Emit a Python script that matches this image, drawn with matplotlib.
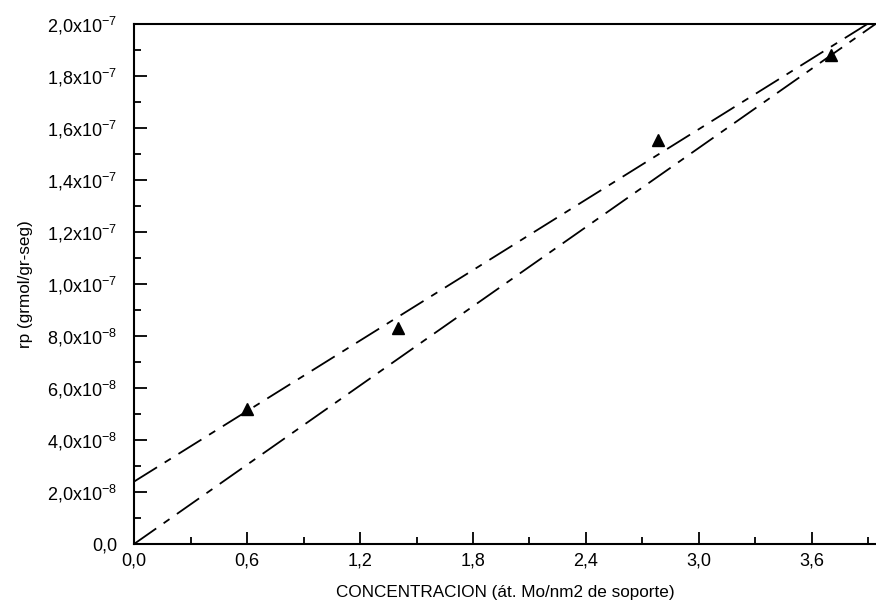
import matplotlib.pyplot as plt
import numpy as np

plt.rcParams['font.family'] = ['Liberation Sans', 'DejaVu Sans']
plt.rcParams['mathtext.fontset'] = 'custom'
plt.rcParams['mathtext.rm'] = 'Liberation Sans'
plt.rcParams['mathtext.default'] = 'rm'
plt.rcParams['axes.unicode_minus'] = False

# datos experimentales
conc = [0.6, 1.4, 2.78, 3.7]
rp = [5.2e-8, 8.3e-8, 1.555e-7, 1.88e-7]

# rectas de ajuste (ordenada, pendiente)
fit_a = (2.4e-8, 4.52e-8)
fit_b = (0.0, 5.08e-8)
x_fit = [0.0, 3.94]

y_ticks = [0.0, 2e-8, 4e-8, 6e-8, 8e-8, 1e-7, 1.2e-7, 1.4e-7, 1.6e-7, 1.8e-7, 2e-7]
y_labels = ['0,0', r'2,0x10$^{-8}$', r'4,0x10$^{-8}$', r'6,0x10$^{-8}$', r'8,0x10$^{-8}$',
            r'1,0x10$^{-7}$', r'1,2x10$^{-7}$', r'1,4x10$^{-7}$', r'1,6x10$^{-7}$',
            r'1,8x10$^{-7}$', r'2,0x10$^{-7}$']
x_ticks = [0.0, 0.6, 1.2, 1.8, 2.4, 3.0, 3.6]
x_labels = ['0,0', '0,6', '1,2', '1,8', '2,4', '3,0', '3,6']

fig = plt.figure(figsize=(8.76, 6.06), dpi=100)
ax = fig.add_axes([0.153, 0.1023, 0.847, 0.858])

for b0, m in (fit_a, fit_b):
    ax.plot(x_fit, [b0 + m * x for x in x_fit], color='black', lw=1.3,
            dashes=(15, 5, 4, 5))
ax.plot(conc, rp, linestyle='none', marker='^', color='black', markersize=8)

ax.set_xlim(0, 3.94)
ax.set_ylim(0, 2e-7)
ax.set_xticks(x_ticks)
ax.set_xticklabels(x_labels)
ax.set_yticks(y_ticks)
ax.set_yticklabels(y_labels)
ax.set_xticks(np.arange(0.3, 3.94, 0.6), minor=True)
ax.set_yticks(np.arange(1e-8, 2e-7, 2e-8), minor=True)
ax.tick_params(which='both', direction='in', width=1.3, labelsize=13, top=False, right=False)
ax.tick_params(which='major', length=9)
ax.tick_params(which='minor', length=5)
ax.tick_params(axis='y', pad=12)
ax.tick_params(axis='x', pad=6)
for side in ('left', 'bottom', 'top'):
    ax.spines[side].set_linewidth(1.5)
ax.spines['right'].set_visible(False)

ax.set_xlabel('CONCENTRACION (át. Mo/nm2 de soporte)', fontsize=12.3, labelpad=11)
ax.set_ylabel('rp (grmol/gr-seg)', fontsize=12.3, labelpad=10)

fig.savefig('out.png', dpi=100)
